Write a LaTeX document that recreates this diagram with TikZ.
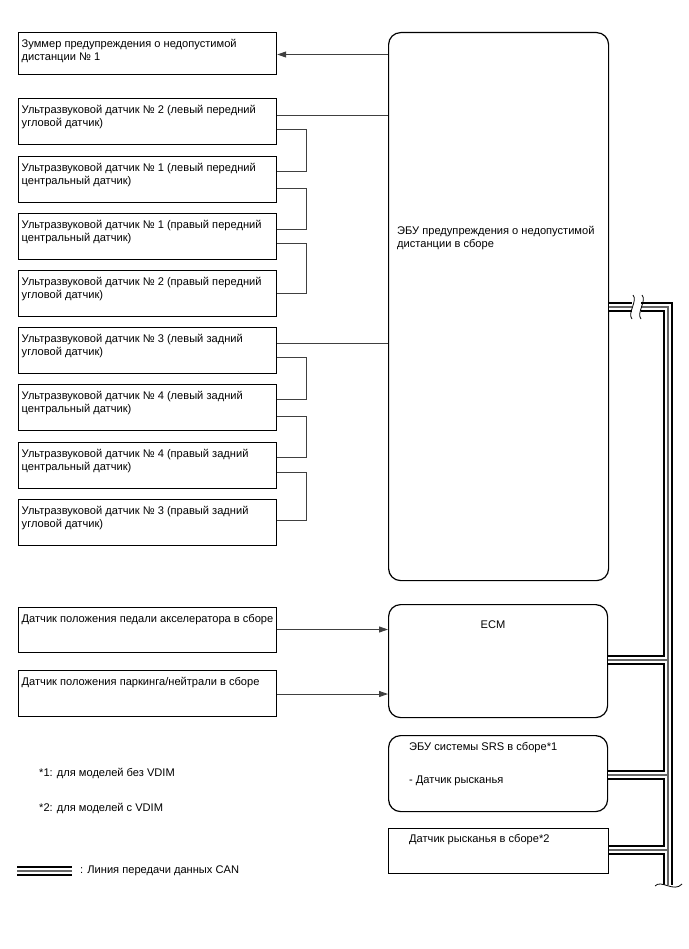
\documentclass[tikz,border=0pt]{standalone}
\usepackage{fontspec}
\setmainfont{Liberation Sans}
\usetikzlibrary{arrows.meta}
\begin{document}
\begin{tikzpicture}[x=1pt,y=-1pt,
 box/.style={draw=black, line width=1.2pt, anchor=north west, inner sep=0pt, minimum width=258pt, minimum height=46pt},
 rbox/.style={box, rounded corners=12pt},
 txt/.style={anchor=north west, inner sep=0pt, align=left, font=\fontsize{11.1}{12.7}\selectfont},
 conn/.style={draw=black!75, line width=0.9pt},
 arr/.style={conn, -{Triangle[length=9pt,width=6pt]}},
 canA/.style={line width=10pt, black},
 canB/.style={line width=6pt, white},
 canC/.style={line width=1.2pt, black!60},
 wave/.style={line width=0.8pt, black}]
\useasboundingbox (0,0) rectangle (688,949);
\fill[white] (0,0) rectangle (688,949);

% left column boxes
\node[box, minimum height=42pt] (buz) at (18,32) {};
\node[box] (s1) at (18,98) {};
\node[box] (s2) at (18,156) {};
\node[box] (s3) at (18,213) {};
\node[box] (s4) at (18,270) {};
\node[box] (s5) at (18,327) {};
\node[box] (s6) at (18,384) {};
\node[box] (s7) at (18,442) {};
\node[box] (s8) at (18,499) {};
\node[box, minimum height=45pt] (pa) at (18,607) {};
\node[box] (pb) at (18,670) {};

\node[txt] (buzt) at ([xshift=3.5pt,yshift=-7.5pt]buz.north west) {Зуммер предупреждения о недопустимой\\дистанции № 1};
\node[txt] (s1t) at ([xshift=3.5pt,yshift=-7.5pt]s1.north west) {Ультразвуковой датчик № 2 (левый передний\\угловой датчик)};
\node[txt] (s2t) at ([xshift=3.5pt,yshift=-7.5pt]s2.north west) {Ультразвуковой датчик № 1 (левый передний\\центральный датчик)};
\node[txt] (s3t) at ([xshift=3.5pt,yshift=-7.5pt]s3.north west) {Ультразвуковой датчик № 1 (правый передний\\центральный датчик)};
\node[txt] (s4t) at ([xshift=3.5pt,yshift=-7.5pt]s4.north west) {Ультразвуковой датчик № 2 (правый передний\\угловой датчик)};
\node[txt] (s5t) at ([xshift=3.5pt,yshift=-7.5pt]s5.north west) {Ультразвуковой датчик № 3 (левый задний\\угловой датчик)};
\node[txt] (s6t) at ([xshift=3.5pt,yshift=-7.5pt]s6.north west) {Ультразвуковой датчик № 4 (левый задний\\центральный датчик)};
\node[txt] (s7t) at ([xshift=3.5pt,yshift=-7.5pt]s7.north west) {Ультразвуковой датчик № 4 (правый задний\\центральный датчик)};
\node[txt] (s8t) at ([xshift=3.5pt,yshift=-7.5pt]s8.north west) {Ультразвуковой датчик № 3 (правый задний\\угловой датчик)};
\node[txt] (pat) at ([xshift=3.5pt,yshift=-7pt]pa.north west) {Датчик положения педали акселератора в сборе};
\node[txt] (pbt) at ([xshift=3.5pt,yshift=-7pt]pb.north west) {Датчик положения паркинга/нейтрали в сборе};

% right column
\node[rbox, minimum width=220pt, minimum height=548pt] (ecu) at (388,32) {};
\node[txt] (ecut) at (397,226) {ЭБУ предупреждения о недопустимой\\дистанции в сборе};
\node[rbox, minimum width=219pt, minimum height=113pt] (ecm) at (388,604) {};
\node[txt, anchor=north] (ecmt) at (493,621) {ECM};
\node[rbox, minimum width=219pt, minimum height=76pt] (srs) at (388,735) {};
\node[txt] (srst1) at (409,742) {ЭБУ системы SRS в сборе*1};
\node[txt] (srst2) at (409,776) {{-} Датчик рысканья};
\node[box, minimum width=220pt, minimum height=45pt] (yaw) at (388,828) {};
\node[txt] (yawt) at (409,834) {Датчик рысканья в сборе*2};

% notes and legend
\node[txt] (n1) at (39,768) {*1: для моделей без VDIM};
\node[txt] (n2) at (39,803) {*2: для моделей с VDIM};
\node[txt] (lgt) at (80,866) {: Линия передачи данных CAN};
\coordinate (lg1) at (17,871);
\coordinate (lg2) at (72,871);

% connectors
\draw[arr] (ecu.west |- 0,54.5) -- (buz.east |- 0,54.5);
\draw[conn] (s1.east |- 0,115) -- (ecu.west |- 0,115);
\draw[conn] (s1.east |- 0,129) -- (306,129) -- (306,171) -- (s2.east |- 0,171);
\draw[conn] (s2.east |- 0,188) -- (306,188) -- (306,229) -- (s3.east |- 0,229);
\draw[conn] (s3.east |- 0,243) -- (306,243) -- (306,293) -- (s4.east |- 0,293);
\draw[conn] (s5.east |- 0,343) -- (ecu.west |- 0,343);
\draw[conn] (s5.east |- 0,357) -- (306,357) -- (306,399) -- (s6.east |- 0,399);
\draw[conn] (s6.east |- 0,416) -- (306,416) -- (306,457) -- (s7.east |- 0,457);
\draw[conn] (s7.east |- 0,472) -- (306,472) -- (306,520) -- (s8.east |- 0,520);
\draw[arr] (pa.east |- 0,629.5) -- (ecm.west |- 0,629.5);
\draw[arr] (pb.east |- 0,694) -- (ecm.west |- 0,694);

% CAN bus
\coordinate (bk1) at (632,307);
\coordinate (bk2) at (641,307);
\coordinate (busc) at (668,307);
\coordinate (busb) at (668,885);
\foreach \s in {canA,canB,canC}{
  \draw[\s] (ecu.east |- bk1) -- (bk1);
  \draw[\s, line join=miter] (bk2) -- (busc) -- (busb);
  \draw[\s] (ecm.east |- 0,660) -- (668,660);
  \draw[\s] (srs.east |- 0,775) -- (668,775);
  \draw[\s] (yaw.east |- 0,850) -- (668,850);
  \draw[\s] (lg1) -- (lg2);
}
\draw[wave] (633,295) .. controls (638,301) and (627,313) .. (632,319);
\draw[wave] (642,295) .. controls (647,301) and (636,313) .. (641,319);
\fill[white] (655,886) .. controls (661,879) and (674,893) .. (682,884) -- (682,895) -- (655,895) -- cycle;
\draw[wave] (655,886) .. controls (661,879) and (674,893) .. (682,884);
\end{tikzpicture}
\end{document}
